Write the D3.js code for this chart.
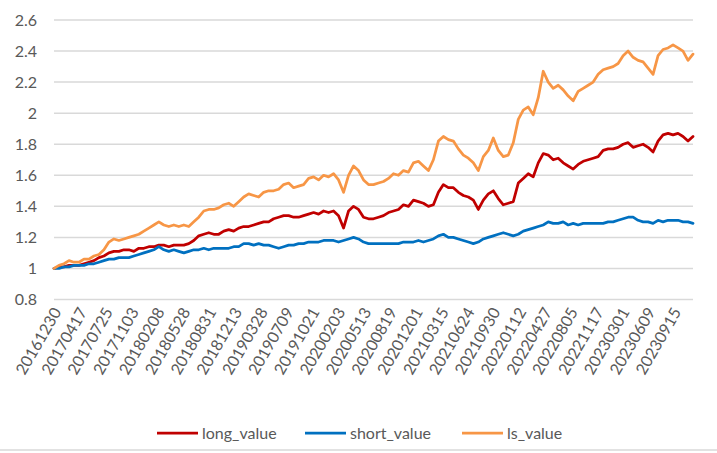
<!DOCTYPE html>
<html>
<head>
<meta charset="utf-8">
<script src="https://cdn.jsdelivr.net/npm/d3@7"></script>
<style>
  body { margin: 0; background: #fff; }
  text { font-family: Lato, "Open Sans", sans-serif; fill: #595959; }
</style>
</head>
<body>
<div id="chart"></div>
<script>
// category labels shown on the x axis (every 69th trading day)
const tickLabels = ["20161230", "20170417", "20170725", "20171103", "20180208", "20180528",
    "20180831", "20181213", "20190328", "20190709", "20191021", "20200203", "20200513",
    "20200819", "20201201", "20210315", "20210624", "20210930", "20220112", "20220427",
    "20220805", "20221117", "20230301", "20230609", "20230915"];
const nDays = 1708;
const labelEvery = 69;

const yTicks = [0.8, 1, 1.2, 1.4, 1.6, 1.8, 2, 2.2, 2.4, 2.6];

// values, evenly spaced over the whole period
const longValue = [1.00, 1.01, 1.01, 1.02, 1.02, 1.02, 1.03, 1.04, 1.05, 1.07,
    1.08, 1.10, 1.11, 1.11, 1.12, 1.12, 1.11, 1.13, 1.13, 1.14,
    1.14, 1.15, 1.15, 1.14, 1.15, 1.15, 1.15, 1.16, 1.18, 1.21,
    1.22, 1.23, 1.22, 1.22, 1.24, 1.25, 1.24, 1.26, 1.27, 1.27,
    1.28, 1.29, 1.30, 1.30, 1.32, 1.33, 1.34, 1.34, 1.33, 1.33,
    1.34, 1.35, 1.36, 1.35, 1.37, 1.36, 1.37, 1.34, 1.26, 1.37,
    1.40, 1.38, 1.33, 1.32, 1.32, 1.33, 1.34, 1.36, 1.37, 1.38,
    1.41, 1.40, 1.44, 1.43, 1.42, 1.40, 1.41, 1.49, 1.54, 1.52,
    1.52, 1.49, 1.47, 1.46, 1.44, 1.38, 1.44, 1.48, 1.50, 1.45,
    1.41, 1.42, 1.43, 1.55, 1.58, 1.61, 1.59, 1.68, 1.74, 1.73,
    1.70, 1.71, 1.68, 1.66, 1.64, 1.67, 1.69, 1.70, 1.71, 1.72,
    1.76, 1.77, 1.77, 1.78, 1.80, 1.81, 1.78, 1.79, 1.80, 1.78,
    1.75, 1.82, 1.86, 1.87, 1.86, 1.87, 1.85, 1.82, 1.85];

const shortValue = [1.00, 1.00, 1.01, 1.01, 1.02, 1.02, 1.02, 1.03, 1.03, 1.04,
    1.05, 1.06, 1.06, 1.07, 1.07, 1.07, 1.08, 1.09, 1.10, 1.11,
    1.12, 1.14, 1.12, 1.11, 1.12, 1.11, 1.10, 1.11, 1.12, 1.12,
    1.13, 1.12, 1.13, 1.13, 1.13, 1.13, 1.14, 1.14, 1.16, 1.16,
    1.15, 1.16, 1.15, 1.15, 1.14, 1.13, 1.14, 1.15, 1.15, 1.16,
    1.16, 1.17, 1.17, 1.17, 1.18, 1.18, 1.18, 1.17, 1.18, 1.19,
    1.20, 1.19, 1.17, 1.16, 1.16, 1.16, 1.16, 1.16, 1.16, 1.16,
    1.17, 1.17, 1.17, 1.18, 1.17, 1.18, 1.19, 1.21, 1.22, 1.20,
    1.20, 1.19, 1.18, 1.17, 1.16, 1.17, 1.19, 1.20, 1.21, 1.22,
    1.23, 1.22, 1.21, 1.22, 1.24, 1.25, 1.26, 1.27, 1.28, 1.30,
    1.29, 1.29, 1.30, 1.28, 1.29, 1.28, 1.29, 1.29, 1.29, 1.29,
    1.29, 1.30, 1.30, 1.31, 1.32, 1.33, 1.33, 1.31, 1.30, 1.30,
    1.29, 1.31, 1.30, 1.31, 1.31, 1.31, 1.30, 1.30, 1.29];

const lsValue = [1.00, 1.02, 1.03, 1.05, 1.04, 1.04, 1.06, 1.06, 1.08, 1.09,
    1.12, 1.17, 1.19, 1.18, 1.19, 1.20, 1.21, 1.22, 1.24, 1.26,
    1.28, 1.30, 1.28, 1.27, 1.28, 1.27, 1.28, 1.27, 1.30, 1.33,
    1.37, 1.38, 1.38, 1.39, 1.41, 1.42, 1.40, 1.43, 1.46, 1.48,
    1.47, 1.46, 1.49, 1.50, 1.50, 1.51, 1.54, 1.55, 1.52, 1.53,
    1.54, 1.58, 1.59, 1.57, 1.60, 1.59, 1.61, 1.57, 1.49, 1.60,
    1.66, 1.63, 1.57, 1.54, 1.54, 1.55, 1.56, 1.58, 1.61, 1.60,
    1.63, 1.62, 1.68, 1.69, 1.66, 1.63, 1.70, 1.82, 1.85, 1.83,
    1.82, 1.77, 1.73, 1.71, 1.68, 1.63, 1.72, 1.76, 1.84, 1.76,
    1.72, 1.73, 1.81, 1.96, 2.02, 2.04, 1.99, 2.10, 2.27, 2.20,
    2.16, 2.18, 2.15, 2.11, 2.08, 2.14, 2.16, 2.18, 2.20, 2.25,
    2.28, 2.29, 2.30, 2.32, 2.37, 2.40, 2.36, 2.34, 2.33, 2.29,
    2.25, 2.37, 2.41, 2.42, 2.44, 2.42, 2.40, 2.34, 2.38];

const seriesNames = ["long_value", "short_value", "ls_value"];
const seriesColors = ["#C00000", "#0070C0", "#F79646"];

const width = 717, height = 453;
const margin = {top: 20, right: 24, bottom: 153.5, left: 54};

const svg = d3.select("#chart").append("svg")
    .attr("width", width)
    .attr("height", height);

svg.append("line")
    .attr("x1", 0).attr("x2", width)
    .attr("y1", 450).attr("y2", 450)
    .attr("stroke", "#d9d9d9")
    .attr("stroke-width", 1.5);

const x = d3.scaleLinear()
    .domain([0, nDays - 1])
    .range([margin.left, width - margin.right]);

const y = d3.scaleLinear()
    .domain([0.8, 2.6])
    .range([height - margin.bottom, margin.top]);

// gridlines
svg.append("g")
    .selectAll("line")
    .data(yTicks)
    .join("line")
    .attr("x1", x(0))
    .attr("x2", x(nDays - 1))
    .attr("y1", d => y(d))
    .attr("y2", d => y(d))
    .attr("stroke", "#d9d9d9")
    .attr("stroke-width", 1.5);

// y labels
svg.append("g")
    .selectAll("text")
    .data(yTicks)
    .join("text")
    .attr("x", 37)
    .attr("y", d => y(d))
    .attr("dy", "0.35em")
    .attr("text-anchor", "end")
    .style("font-size", "16px")
    .text(d => d3.format("~g")(d));

// x labels, rotated
svg.append("g")
    .selectAll("text")
    .data(tickLabels)
    .join("text")
    .attr("transform", (d, i) => `translate(${x(i * labelEvery) + 3}, 309) rotate(-60)`)
    .attr("dy", "0.35em")
    .attr("text-anchor", "end")
    .style("font-size", "16px")
    .text(d => d);

// lines
const allSeries = [longValue, shortValue, lsValue];
const line = d3.line()
    .x((d, i, arr) => x(i * (nDays - 1) / (arr.length - 1)))
    .y(d => y(d));

svg.append("g")
    .selectAll("path")
    .data(allSeries)
    .join("path")
    .attr("d", d => line(d))
    .attr("fill", "none")
    .attr("stroke", (d, i) => seriesColors[i])
    .attr("stroke-width", 2.75)
    .attr("stroke-linejoin", "round")
    .attr("stroke-linecap", "round");

// legend
const legendX = [157, 305, 462];
const legend = svg.append("g")
    .selectAll("g")
    .data(seriesNames)
    .join("g")
    .attr("transform", (d, i) => `translate(${legendX[i]}, 433)`);

legend.append("line")
    .attr("x1", 0).attr("x2", 41)
    .attr("stroke", (d, i) => seriesColors[i])
    .attr("stroke-width", 2.75);

legend.append("text")
    .attr("x", 45)
    .attr("dy", "0.35em")
    .style("font-size", "16px")
    .text(d => d);
</script>
</body>
</html>
